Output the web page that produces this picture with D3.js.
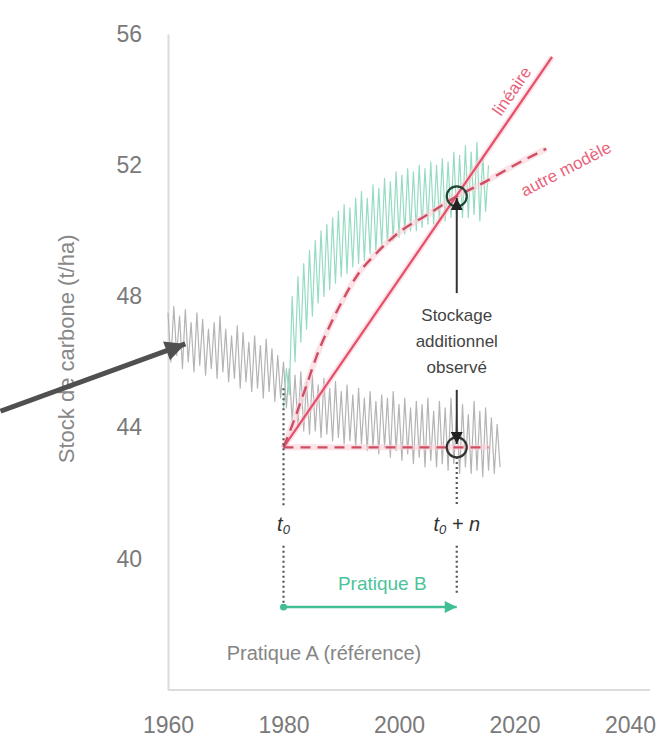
<!DOCTYPE html>
<html>
<head>
<meta charset="utf-8">
<script src="https://cdn.jsdelivr.net/npm/d3@7"></script>
<style>
  body { margin: 0; background: #fff; }
  svg { display: block; font-family: "Liberation Sans", Arial, sans-serif; }
</style>
</head>
<body>
<div id="chart"></div>
<script>
// Pratique A (référence) : yearly low / high of the seasonal signal
const grayYears = [1960,1961,1962,1963,1964,1965,1966,1967,1968,1969,1970,1971,1972,1973,1974,1975,1976,1977,1978,1979,
  1980,1981,1982,1983,1984,1985,1986,1987,1988,1989,1990,1991,1992,1993,1994,1995,1996,1997,1998,1999,
  2000,2001,2002,2003,2004,2005,2006,2007,2008,2009,2010,2011,2012,2013,2014,2015,2016,2017];
const grayLow = [46.0,46.2,45.8,46.0,45.7,45.9,45.6,45.8,45.5,45.7,45.4,45.5,45.2,45.4,45.1,45.2,44.9,45.1,44.8,44.9,
  44.6,44.2,44.0,43.9,43.8,43.9,43.7,43.8,43.6,43.7,43.5,43.6,43.4,43.5,43.3,43.4,43.2,43.4,43.1,43.3,
  43.0,43.2,42.9,43.1,42.8,43.0,42.8,42.9,42.7,42.9,42.6,42.8,42.6,42.7,42.5,42.7,42.6,42.8];
const grayHigh = [47.5,47.7,47.4,47.6,47.2,47.5,47.3,47.0,47.2,47.4,47.0,46.8,47.1,46.9,46.6,46.8,46.5,46.7,46.4,46.2,
  46.0,45.8,45.6,45.7,45.4,45.6,45.3,45.5,45.2,45.4,45.1,45.3,45.0,45.2,44.9,45.1,44.8,45.0,44.9,45.1,
  44.7,44.9,44.6,44.8,44.7,44.9,44.5,44.8,44.6,44.9,44.5,44.7,44.4,44.8,44.5,44.6,44.3,44.1];

// Pratique B
const greenYears = [1980,1981,1982,1983,1984,1985,1986,1987,1988,1989,1990,1991,1992,1993,1994,1995,1996,1997,
  1998,1999,2000,2001,2002,2003,2004,2005,2006,2007,2008,2009,2010,2011,2012,2013,2014,2015];
const greenLow = [44.6,45.0,46.0,46.6,47.0,47.4,47.8,48.0,48.2,48.4,48.6,48.7,48.9,49.0,49.1,49.3,49.4,49.5,
  49.6,49.7,49.8,49.9,50.0,50.0,50.1,50.2,50.2,50.3,50.3,50.4,50.3,50.4,50.4,50.5,50.3,50.6];
const greenHigh = [45.8,48.0,48.6,49.0,49.4,49.7,50.0,50.2,50.4,50.6,50.8,50.7,51.0,51.2,51.0,51.4,51.3,51.6,
  51.5,51.8,51.7,51.9,51.8,52.0,51.9,52.1,52.0,52.2,52.1,52.4,52.3,52.6,52.4,52.7,52.3,52.0];

// models
const modelYears = [1980,1982,1984,1986,1988,1990,1993,1996,2000,2005,2010,2015,2020,2025.5];
const modelValues = [43.4,44.3,45.3,46.3,47.1,47.8,48.7,49.3,49.95,50.5,51.05,51.5,52.0,52.5];
const linearYears = [1980, 2026.5];
const linearValues = [43.4, 55.3];
const refYears = [1980, 2015.5];
const refValues = [43.4, 43.4];

const xTicks = [1960, 1980, 2000, 2020, 2040];
const yTicks = [40, 44, 48, 52, 56];
const t0 = 1980, tn = 2010;
const stockStart = 43.4, stockEnd = 51.05;

function renderChart(containerId) {
  const container = d3.select(containerId);
  container.selectAll("*").remove();

  const W = 657, H = 742;
  const margin = { top: 34, right: 27, bottom: 52, left: 168 };
  const width = W - margin.left - margin.right;
  const height = H - margin.top - margin.bottom;

  const svg = container.append("svg").attr("width", W).attr("height", H);

  // markers
  const defs = svg.append("defs");
  const marker = (id, w, h, color) => defs.append("marker")
    .attr("id", id).attr("viewBox", "0 0 10 10")
    .attr("refX", 10).attr("refY", 5)
    .attr("markerUnits", "userSpaceOnUse")
    .attr("markerWidth", w).attr("markerHeight", h)
    .attr("orient", "auto")
    .append("path").attr("d", "M0,0 L10,5 L0,10 z").attr("fill", color);
  marker("arrDark", 24, 20, "#505050");
  marker("arrBlack", 13, 12, "#222");
  marker("arrGreen", 14, 12, "#3fbf92");
  defs.append("marker").attr("id", "dotGreen").attr("viewBox", "0 0 10 10")
    .attr("refX", 5).attr("refY", 5).attr("markerUnits", "userSpaceOnUse")
    .attr("markerWidth", 7).attr("markerHeight", 7)
    .append("circle").attr("cx", 5).attr("cy", 5).attr("r", 5).attr("fill", "#3fbf92");

  const g = svg.append("g").attr("transform", `translate(${margin.left},${margin.top})`);

  const x = d3.scaleLinear().domain([1960, 2040]).range([0, width]);
  const y = d3.scaleLinear().domain([36, 56]).range([height, 0]);

  // axes
  const yAxis = g.append("g").call(d3.axisLeft(y).tickValues(yTicks).tickSize(0).tickPadding(26));
  yAxis.select(".domain").attr("stroke", "#dcdcdc").attr("stroke-width", 2);
  yAxis.selectAll("text").attr("font-size", 23).attr("fill", "#7a7a7a").attr("font-family", "Liberation Sans, Arial");

  const xAxis = g.append("g").attr("transform", `translate(0,${height})`)
    .call(d3.axisBottom(x).tickValues(xTicks).tickFormat(d3.format("d")).tickSize(0).tickPadding(27));
  xAxis.select(".domain").remove();
  xAxis.selectAll("text").attr("font-size", 23).attr("fill", "#7a7a7a").attr("font-family", "Liberation Sans, Arial");
  g.append("line")
    .attr("x1", x(1960)).attr("x2", x(2043.5)).attr("y1", height).attr("y2", height)
    .attr("stroke", "#dcdcdc").attr("stroke-width", 2);

  g.append("text")
    .attr("transform", `translate(${68 - margin.left},${y(46.4)}) rotate(-90)`)
    .attr("text-anchor", "middle").attr("dominant-baseline", "middle")
    .attr("font-size", 22).attr("fill", "#888")
    .text("Stock de carbone (t/ha)");

  const line = d3.line().x(d => x(d[0])).y(d => y(d[1]));

  // seasonal signals
  const grayPts = grayYears.flatMap((yr, i) => [[yr, grayHigh[i]], [yr + 0.5, grayLow[i]]]);
  const greenPts = greenYears.flatMap((yr, i) => [[yr, greenLow[i]], [yr + 0.5, greenHigh[i]]]);
  g.append("path").attr("d", line(grayPts))
    .attr("fill", "none").attr("stroke", "#b4b4b4").attr("stroke-width", 1.2).attr("stroke-linejoin", "round");
  g.append("path").attr("d", line(greenPts))
    .attr("fill", "none").attr("stroke", "#96dcc2").attr("stroke-width", 1.2).attr("stroke-linejoin", "round");

  // model lines with light pink halo
  const linearPts = linearYears.map((yr, i) => [yr, linearValues[i]]);
  const modelPts = modelYears.map((yr, i) => [yr, modelValues[i]]);
  const refPts = refYears.map((yr, i) => [yr, refValues[i]]);
  const curved = d3.line().x(d => x(d[0])).y(d => y(d[1])).curve(d3.curveMonotoneX);

  [line(linearPts), curved(modelPts), line(refPts)].forEach(d => {
    g.append("path").attr("d", d).attr("fill", "none")
      .attr("stroke", "#f8d0d7").attr("stroke-width", 6).attr("opacity", 0.6);
  });
  g.append("path").attr("d", line(linearPts)).attr("fill", "none")
    .attr("stroke", "#e4506a").attr("stroke-width", 2.2);
  g.append("path").attr("d", curved(modelPts)).attr("fill", "none")
    .attr("stroke", "#cf4d63").attr("stroke-width", 2.4).attr("stroke-dasharray", "11,7");
  g.append("path").attr("d", line(refPts)).attr("fill", "none")
    .attr("stroke", "#cf4d63").attr("stroke-width", 2.2).attr("stroke-dasharray", "10,7");

  // labels on the model lines
  const ang = (a, b) => Math.atan2(y(b[1]) - y(a[1]), x(b[0]) - x(a[0])) * 180 / Math.PI;
  const linAng = ang(linearPts[0], linearPts[1]);
  const linAt = 2021.5;
  const linY = stockStart + (linAt - t0) * (linearValues[1] - linearValues[0]) / (linearYears[1] - linearYears[0]);
  g.append("text")
    .attr("transform", `translate(${x(linAt)},${y(linY)}) rotate(${linAng}) translate(0,-8)`)
    .attr("text-anchor", "middle").attr("font-size", 17).attr("fill", "#e8647c")
    .text("linéaire");
  g.append("text")
    .attr("transform", `translate(${x(2029)},${y(51.85)}) rotate(${ang(modelPts[11], modelPts[13]) + 1})`)
    .attr("text-anchor", "middle").attr("dominant-baseline", "middle")
    .attr("font-size", 17).attr("fill", "#e8647c")
    .text("autre modèle");

  // dotted guides at t0 and t0 + n
  const dotted = (xv, v1, v2) => g.append("line")
    .attr("x1", x(xv)).attr("x2", x(xv)).attr("y1", y(v1)).attr("y2", y(v2))
    .attr("stroke", "#555").attr("stroke-width", 2.2).attr("stroke-dasharray", "2,3");
  dotted(t0, 45.2, 41.6);
  dotted(t0, 40.4, 38.5);
  dotted(tn, 43.1, 41.6);
  dotted(tn, 40.4, 38.95);

  // observed points
  g.append("circle").attr("cx", x(tn)).attr("cy", y(stockEnd)).attr("r", 10)
    .attr("fill", "none").attr("stroke", "#1f4536").attr("stroke-width", 2.2);
  g.append("circle").attr("cx", x(tn)).attr("cy", y(stockStart)).attr("r", 10)
    .attr("fill", "none").attr("stroke", "#333").attr("stroke-width", 2.2);

  // additional storage arrow
  g.append("line").attr("x1", x(tn)).attr("x2", x(tn)).attr("y1", y(48.1)).attr("y2", y(51.0))
    .attr("stroke", "#333").attr("stroke-width", 2).attr("marker-end", "url(#arrBlack)");
  g.append("line").attr("x1", x(tn)).attr("x2", x(tn)).attr("y1", y(45.15)).attr("y2", y(43.5))
    .attr("stroke", "#333").attr("stroke-width", 2).attr("marker-end", "url(#arrBlack)");
  const st = g.append("text").attr("x", x(tn)).attr("y", y(47.37))
    .attr("text-anchor", "middle").attr("dominant-baseline", "middle")
    .attr("font-size", 17).attr("fill", "#444");
  ["Stockage", "additionnel", "observé"].forEach((s, i) =>
    st.append("tspan").attr("x", x(tn)).attr("dy", i ? 26 : 0).text(s));

  // time labels
  const tLabel = (xv, extra) => {
    const t = g.append("text").attr("x", x(xv)).attr("y", y(41.0))
      .attr("text-anchor", "middle").attr("dominant-baseline", "middle")
      .attr("font-size", 20).attr("font-style", "italic").attr("fill", "#333");
    t.append("tspan").text("t");
    t.append("tspan").attr("font-size", 13).attr("dy", 5).text("0");
    if (extra) t.append("tspan").attr("dy", -5).text(extra);
  };
  tLabel(t0, null);
  tLabel(tn, " + n");

  // practice B arrow
  g.append("line").attr("x1", x(t0)).attr("x2", x(tn)).attr("y1", y(38.53)).attr("y2", y(38.53))
    .attr("stroke", "#3fbf92").attr("stroke-width", 2.5)
    .attr("marker-start", "url(#dotGreen)").attr("marker-end", "url(#arrGreen)");
  g.append("text").attr("x", x(1997.1)).attr("y", y(39.2))
    .attr("text-anchor", "middle").attr("dominant-baseline", "middle")
    .attr("font-size", 19).attr("fill", "#4cc49a").text("Pratique B");
  g.append("text").attr("x", x(1987)).attr("y", y(37.07))
    .attr("text-anchor", "middle").attr("dominant-baseline", "middle")
    .attr("font-size", 20).attr("fill", "#858585").text("Pratique A (référence)");

  // pointer to the reference series
  g.append("line")
    .attr("x1", x(1931)).attr("y1", y(44.5)).attr("x2", x(1963)).attr("y2", y(46.55))
    .attr("stroke", "#505050").attr("stroke-width", 5).attr("marker-end", "url(#arrDark)");
}

renderChart("#chart");
</script>
</body>
</html>
